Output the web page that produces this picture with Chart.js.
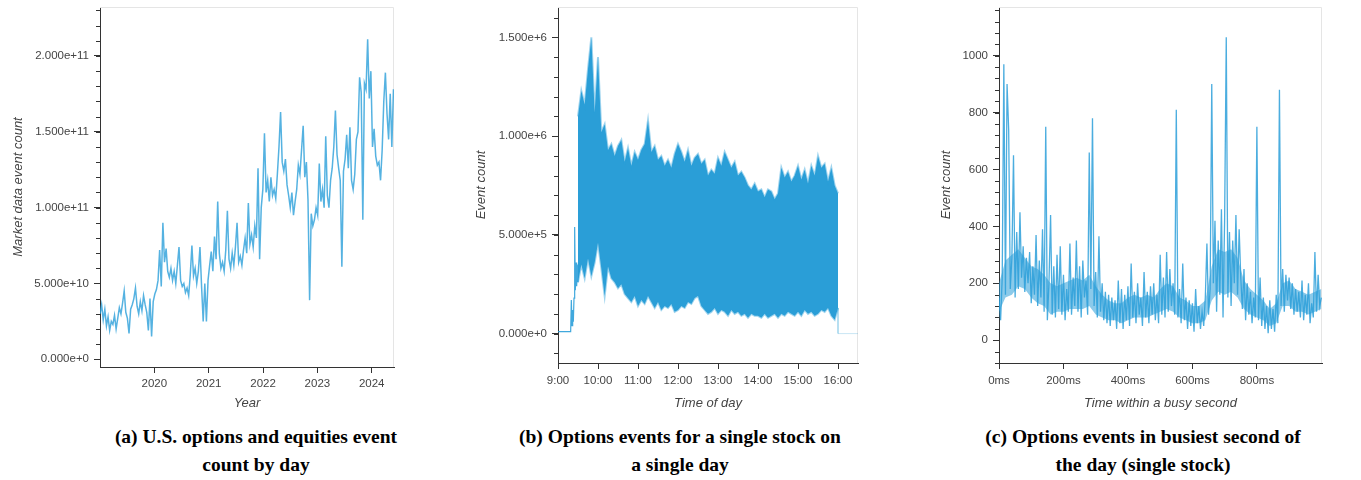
<!DOCTYPE html>
<html>
<head>
<meta charset="utf-8">
<script src="https://cdn.jsdelivr.net/npm/chart.js"></script>
<style>
  body { margin: 0; background: #fff; width: 1361px; height: 480px; position: relative; overflow: hidden; }
  canvas { position: absolute; top: 0; }
  .cap { position: absolute; top: 423px; font-family: 'Liberation Serif', 'DejaVu Serif', serif; font-weight: bold;
         font-size: 19.5px; line-height: 28px; text-align: center; color: #000; white-space: nowrap; }
</style>
</head>
<body>
<canvas id="chartA" width="410" height="415" style="left:0px"></canvas>
<canvas id="chartB" width="410" height="415" style="left:460px"></canvas>
<canvas id="chartC" width="400" height="415" style="left:930px"></canvas>
<div class="cap" style="left:56px;width:400px">(a) U.S. options and equities event<br>count by day</div>
<div class="cap" style="left:430px;width:500px">(b) Options events for a single stock on<br>a single day</div>
<div class="cap" style="left:893px;width:500px">(c) Options events in busiest second of<br>the day (single stock)</div>
<script>
// (a) market data events per trading day, in billions, Jan 2019 .. May 2024
const aStartYear = 2019.0;
const aEndYear = 2024.4;
const aCounts = [
  30, 36, 26, 33, 22, 28, 19, 25, 23, 29, 20, 27, 34, 30, 37, 45, 31, 27, 17, 33, 36, 40, 47, 35, 30, 38, 32, 42, 36, 31, 19, 40, 15, 38,
  43, 46, 52, 72, 48, 90, 64, 73, 58, 54, 60, 52, 58, 50, 62, 74, 52, 48, 50, 44, 47, 42, 56, 75, 55, 60, 50, 58, 74, 48, 25, 50, 25,
  52, 62, 71, 58, 81, 66, 104, 70, 60, 64, 58, 72, 98, 66, 60, 70, 62, 74, 90, 64, 68, 62, 72, 80, 70, 103, 76, 82, 74, 88, 80, 126, 66,
  100, 112, 149, 110, 118, 104, 120, 108, 112, 106, 122, 140, 163, 130, 124, 132, 115, 108, 100, 110, 95, 104, 112, 128, 122, 138, 154, 120, 130, 105, 39, 96, 88,
  92, 100, 95, 129, 104, 112, 100, 147, 108, 100, 118, 126, 140, 164, 135, 126, 118, 61, 124, 132, 148, 126, 153, 118, 112, 122, 145, 150, 186, 176, 92, 182, 178, 211,
  172, 190, 140, 152, 134, 128, 130, 118, 138, 170, 189, 162, 145, 175, 140, 178
];
const aYearTicks = [2020, 2021, 2022, 2023, 2024];
const aYTicks = [0, 5e10, 1e11, 1.5e11, 2e11];

// (b) events for one stock, minutes after 9:00, values in units of 1e5
const bPreMin = [0, 10, 19, 20, 21, 22, 23, 24, 25, 26, 27, 28, 29, 30];
const bPreVal = [0.1, 0.1, 0.1, 1.7, 0.4, 1.2, 0.6, 1.8, 5.4, 2.2, 3.6, 2.4, 3.5, 2.6];
const bBandStart = 30;
const bBandStep = 5;
const bUpper = [
  11.0, 12.3, 11.6, 13.4, 15.0, 11.2, 14.0, 10.2, 10.6, 9.3, 9.6, 9.0, 9.5, 9.8, 8.7, 9.4, 8.5, 9.2,
  8.8, 9.3, 9.6, 10.8, 9.2, 9.5, 8.8, 9.0, 8.5, 8.8, 8.4, 9.1,
  9.6, 9.2, 8.7, 9.3, 8.5, 8.9, 9.1, 8.6, 8.8, 8.0, 8.3, 8.1,
  8.9, 8.5, 9.2, 8.8, 8.4, 8.7, 8.0, 8.2, 7.9, 7.5, 7.3, 7.6,
  7.2, 7.3, 6.9, 7.3, 7.2, 6.8, 7.1, 8.4, 7.9, 8.2, 7.7, 8.0,
  8.5, 7.8, 8.3, 7.6, 8.5, 8.0, 9.0, 8.4, 8.6, 7.7, 8.4, 7.5, 7.1
];
const bLower = [
  2.6, 3.5, 2.8, 3.8, 2.9, 3.6, 4.6, 3.3, 1.9, 3.4, 2.8, 2.6, 2.3, 2.5, 2.0, 1.8, 1.6, 1.9,
  1.4, 1.7, 1.5, 1.9, 1.6, 1.3, 1.6, 1.2, 1.4, 1.3, 1.5, 1.1,
  1.2, 1.4, 1.3, 1.6, 1.5, 1.8, 1.9, 1.4, 1.2, 1.0, 1.1, 1.3,
  1.0, 1.2, 1.1, 0.9, 1.2, 1.0, 1.1, 0.9, 1.0, 0.8, 1.0, 0.9,
  0.9, 0.8, 1.0, 0.8, 0.9, 1.0, 0.8, 1.0, 0.9, 1.1, 1.0, 0.9,
  1.1, 0.9, 1.2, 1.0, 1.1, 0.9, 1.0, 1.2, 1.1, 1.3, 0.9, 0.7, 1.3
];
const bCloseMin = [420, 420, 450];
const bCloseVal = [1.3, 0, 0];
const bTimeTicks = [0, 60, 120, 180, 240, 300, 360, 420];
const bTimeLabels = ['9:00', '10:00', '11:00', '12:00', '13:00', '14:00', '15:00', '16:00'];
const bYTicks = [0, 5e5, 1e6, 1.5e6];

// (c) events per 5 ms inside the busiest second
const cStepMs = 5;
const cCounts = [
  150, 70, 220, 970, 160, 900, 740, 180, 290, 650,
  150, 380, 180, 450, 220, 330, 170, 290, 200, 310,
  130, 260, 160, 370, 120, 280, 150, 390, 100, 750,
  70, 200, 440, 90, 260, 80, 300, 110, 330, 90,
  230, 70, 180, 100, 340, 90, 220, 120, 350, 100,
  260, 80, 280, 150, 210, 90, 660, 180, 780, 120,
  240, 80, 365, 100, 200, 70, 170, 60, 160, 50,
  150, 70, 140, 40, 210, 60, 180, 40, 160, 70,
  190, 50, 270, 80, 170, 60, 200, 90, 150, 50,
  240, 80, 170, 60, 190, 90, 200, 70, 160, 60,
  300, 90, 220, 80, 310, 100, 250, 120, 200, 90,
  810, 80, 180, 60, 270, 70, 150, 40, 140, 50,
  130, 30, 180, 60, 120, 40, 100, 50, 150, 340,
  90, 180, 900, 200, 420, 100, 350, 160, 460, 80,
  430, 1065, 150, 380, 120, 350, 200, 440, 160, 390,
  220, 110, 250, 70, 200, 90, 170, 60, 150, 80,
  750, 70, 220, 50, 150, 40, 120, 25, 140, 40,
  110, 30, 160, 60, 880, 120, 250, 100, 230, 140,
  220, 110, 200, 90, 180, 100, 170, 80, 210, 70,
  160, 90, 200, 60, 130, 80, 310, 100, 230, 120,
  150
];
// dense core of the (c) trace, every 20 ms
const cCoreStepMs = 20;
const cCoreLo = [
  100, 150, 160, 190, 180, 150, 130, 120, 90, 100,
  100, 110, 110, 110, 120, 90, 80, 70, 70, 60,
  70, 80, 80, 80, 90, 100, 110, 100, 80, 70,
  60, 60, 70, 140, 170, 160, 170, 150, 110, 90,
  80, 70, 50, 60, 120, 120, 100, 100, 90, 100,
  110
];
const cCoreHi = [
  200, 280, 300, 320, 290, 260, 250, 230, 200, 190,
  200, 210, 220, 210, 230, 190, 160, 140, 130, 130,
  150, 160, 150, 160, 150, 180, 200, 190, 150, 140,
  120, 120, 140, 260, 320, 310, 320, 290, 210, 180,
  160, 140, 110, 130, 200, 210, 180, 170, 160, 170,
  180
];
const cMsTicks = [0, 200, 400, 600, 800];
const cYTicks = [0, 200, 400, 600, 800, 1000];

const BLUE = '43,159,217';
const AXIS = '#333';

Chart.defaults.font.family = "'Liberation Sans', Arial, sans-serif";
Chart.defaults.font.size = 11.5;
Chart.defaults.color = '#444';
Chart.defaults.animation = false;

// light outline on top and right of the plot frame
const frame = {
  id: 'frame',
  beforeDatasetsDraw(chart) {
    const a = chart.chartArea, ctx = chart.ctx;
    ctx.save();
    ctx.strokeStyle = '#e5e5e5';
    ctx.lineWidth = 1;
    ctx.beginPath();
    ctx.moveTo(a.left, a.top + 0.5);
    ctx.lineTo(a.right - 0.5, a.top + 0.5);
    ctx.lineTo(a.right - 0.5, a.bottom);
    ctx.stroke();
    ctx.restore();
  }
};

// short minor ticks on the y axis
const minorTicks = {
  id: 'minorTicks',
  afterDraw(chart, args, opts) {
    const s = chart.scales.y, ctx = chart.ctx;
    const first = Math.ceil(s.min / opts.step), last = Math.floor(s.max / opts.step);
    ctx.save();
    ctx.strokeStyle = AXIS;
    ctx.lineWidth = 1;
    for (let k = first; k <= last; k++) {
      const y = Math.round(s.getPixelForValue(k * opts.step)) + 0.5;
      ctx.beginPath();
      ctx.moveTo(s.right - 4, y);
      ctx.lineTo(s.right, y);
      ctx.stroke();
    }
    ctx.restore();
  }
};

function axes(o) {
  return {
    x: {
      type: 'linear', min: o.xMin, max: o.xMax,
      border: { color: AXIS, width: 1 },
      grid: { drawOnChartArea: false, tickLength: 6, tickColor: AXIS },
      ticks: { padding: o.xPad, maxRotation: 0, autoSkip: false, callback: o.xLabel },
      afterBuildTicks: s => { s.ticks = o.xTicks.map(v => ({ value: v })); },
      afterFit: s => { s.height = o.xHeight; s.paddingLeft = 0; s.paddingRight = 0; },
      title: { display: true, text: o.xTitle, font: { size: 13, style: 'italic' }, padding: { top: 4, bottom: 4 } }
    },
    y: {
      type: 'linear', min: o.yMin, max: o.yMax,
      border: { color: AXIS, width: 1 },
      grid: { drawOnChartArea: false, tickLength: 6, tickColor: AXIS },
      ticks: { padding: 5, callback: o.yLabel },
      afterBuildTicks: s => { s.ticks = o.yTicks.map(v => ({ value: v })); },
      afterFit: s => { s.width = o.yWidth; s.paddingTop = 0; s.paddingBottom = 0; },
      title: { display: true, text: o.yTitle, font: { size: 13, style: 'italic' }, padding: { top: o.yTitlePad, bottom: 0 } }
    }
  };
}

function lineSet(points, color, width) {
  return { data: points, borderColor: color, borderWidth: width, pointRadius: 0, tension: 0, fill: false };
}

const aStep = (aEndYear - aStartYear) / (aCounts.length - 1);
new Chart(document.getElementById('chartA'), {
  type: 'line',
  data: {
    datasets: [
      lineSet(aCounts.map((v, i) => ({ x: aStartYear + i * aStep, y: v * 1e9 })), `rgba(${BLUE},0.8)`, 1.5)
    ]
  },
  options: {
    responsive: false,
    layout: { padding: { top: 7, right: 16 } },
    plugins: { legend: { display: false }, tooltip: { enabled: false }, minorTicks: { step: 1e10 } },
    scales: axes({
      xMin: 2019.0, xMax: 2024.41, xTicks: aYearTicks, xLabel: v => String(v), xTitle: 'Year', xHeight: 48, xPad: 4,
      yMin: -5.1e9, yMax: 2.323e11, yTicks: aYTicks, yLabel: v => v.toExponential(3),
      yTitle: 'Market data event count', yWidth: 100, yTitlePad: 11
    })
  },
  plugins: [frame, minorTicks]
});

new Chart(document.getElementById('chartB'), {
  type: 'line',
  data: {
    datasets: [
      lineSet(bPreMin.map((m, i) => ({ x: m, y: bPreVal[i] * 1e5 })), `rgba(${BLUE},0.9)`, 1.2),
      Object.assign(lineSet(bUpper.map((v, i) => ({ x: bBandStart + i * bBandStep, y: v * 1e5 })), `rgba(${BLUE},0.45)`, 2),
        { fill: '+1', backgroundColor: 'rgb(42,158,215)' }),
      lineSet(bLower.map((v, i) => ({ x: bBandStart + i * bBandStep, y: v * 1e5 })), `rgba(${BLUE},0.45)`, 2),
      lineSet(bCloseMin.map((m, i) => ({ x: m, y: bCloseVal[i] * 1e5 })), `rgba(${BLUE},0.25)`, 1)
    ]
  },
  options: {
    responsive: false,
    layout: { padding: { top: 7, right: 12 } },
    plugins: { legend: { display: false }, tooltip: { enabled: false }, minorTicks: { step: 1e5 } },
    scales: axes({
      xMin: 0, xMax: 450, xTicks: bTimeTicks, xLabel: (v, i) => bTimeLabels[i], xTitle: 'Time of day', xHeight: 52, xPad: 5,
      yMin: -1.49e5, yMax: 1.654e6, yTicks: bYTicks, yLabel: v => v.toExponential(3),
      yTitle: 'Event count', yWidth: 98, yTitlePad: 14
    })
  },
  plugins: [frame, minorTicks]
});

new Chart(document.getElementById('chartC'), {
  type: 'line',
  data: {
    datasets: [
      lineSet(cCounts.map((v, i) => ({ x: i * cStepMs, y: v })), `rgba(${BLUE},0.85)`, 1.3),
      Object.assign(lineSet(cCoreHi.map((v, i) => ({ x: i * cCoreStepMs, y: v })), 'rgba(0,0,0,0)', 0),
        { fill: '+1', backgroundColor: `rgba(${BLUE},0.55)` }),
      lineSet(cCoreLo.map((v, i) => ({ x: i * cCoreStepMs, y: v })), 'rgba(0,0,0,0)', 0)
    ]
  },
  options: {
    responsive: false,
    layout: { padding: { top: 7, right: 8 } },
    plugins: { legend: { display: false }, tooltip: { enabled: false }, minorTicks: { step: 40 } },
    scales: axes({
      xMin: 0, xMax: 1002, xTicks: cMsTicks, xLabel: v => v + 'ms', xTitle: 'Time within a busy second', xHeight: 52, xPad: 5,
      yMin: -80, yMax: 1171, yTicks: cYTicks, yLabel: v => String(v),
      yTitle: 'Event count', yWidth: 69, yTitlePad: 9
    })
  },
  plugins: [frame, minorTicks]
});
</script>
</body>
</html>
